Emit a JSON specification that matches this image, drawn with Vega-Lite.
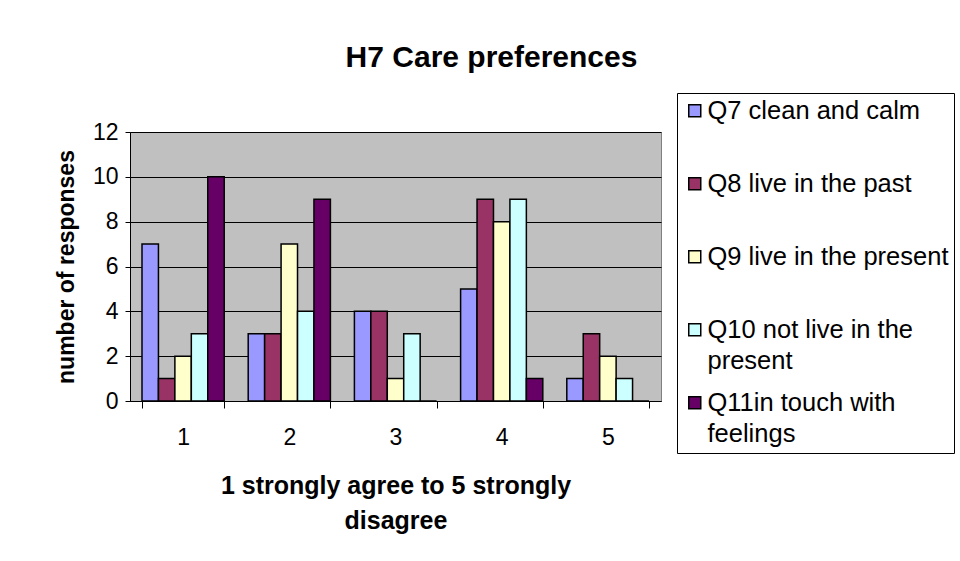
{
  "$schema": "https://vega.github.io/schema/vega-lite/v6.json",
  "width": 531,
  "height": 269,
  "autosize": {"type": "none"},
  "padding": {"left": 130, "top": 132, "right": 299, "bottom": 160},
  "background": "white",
  "title": {
    "text": "H7 Care preferences",
    "font": "Liberation Sans",
    "fontSize": 30,
    "fontWeight": "bold",
    "color": "black",
    "anchor": "middle",
    "frame": "group",
    "dx": 96,
    "baseline": "alphabetic",
    "offset": -4
  },
  "data": {
    "values": [
      {"cat": "1", "series": "Q7 clean and calm", "value": 7},
      {"cat": "1", "series": "Q8 live in the past", "value": 1},
      {"cat": "1", "series": "Q9 live in the present", "value": 2},
      {"cat": "1", "series": "Q10 not live in the present", "value": 3},
      {"cat": "1", "series": "Q11in touch with feelings", "value": 10},
      {"cat": "2", "series": "Q7 clean and calm", "value": 3},
      {"cat": "2", "series": "Q8 live in the past", "value": 3},
      {"cat": "2", "series": "Q9 live in the present", "value": 7},
      {"cat": "2", "series": "Q10 not live in the present", "value": 4},
      {"cat": "2", "series": "Q11in touch with feelings", "value": 9},
      {"cat": "3", "series": "Q7 clean and calm", "value": 4},
      {"cat": "3", "series": "Q8 live in the past", "value": 4},
      {"cat": "3", "series": "Q9 live in the present", "value": 1},
      {"cat": "3", "series": "Q10 not live in the present", "value": 3},
      {"cat": "3", "series": "Q11in touch with feelings", "value": 0},
      {"cat": "4", "series": "Q7 clean and calm", "value": 5},
      {"cat": "4", "series": "Q8 live in the past", "value": 9},
      {"cat": "4", "series": "Q9 live in the present", "value": 8},
      {"cat": "4", "series": "Q10 not live in the present", "value": 9},
      {"cat": "4", "series": "Q11in touch with feelings", "value": 1},
      {"cat": "5", "series": "Q7 clean and calm", "value": 1},
      {"cat": "5", "series": "Q8 live in the past", "value": 3},
      {"cat": "5", "series": "Q9 live in the present", "value": 2},
      {"cat": "5", "series": "Q10 not live in the present", "value": 1},
      {"cat": "5", "series": "Q11in touch with feelings", "value": 0}
    ]
  },
  "mark": {"type": "bar", "stroke": "black", "strokeWidth": 1.5, "strokeOpacity": 1, "opacity": 1},
  "encoding": {
    "x": {
      "field": "cat",
      "type": "nominal",
      "scale": {"paddingInner": 0.226, "paddingOuter": 0.113},
      "axis": {
        "title": ["1 strongly agree to 5 strongly", "disagree"],
        "titleFont": "Liberation Sans",
        "titleFontSize": 25,
        "titleFontWeight": "bold",
        "titleColor": "black",
        "titleLineHeight": 35,
        "titlePadding": 24,
        "labelFont": "Liberation Sans",
        "labelFontSize": 23,
        "labelColor": "black",
        "labelAngle": 0,
        "labelPadding": 18,
        "tickBand": "extent",
        "tickSize": 7,
        "tickColor": "black",
        "domainColor": "black",
        "grid": false
      }
    },
    "xOffset": {
      "field": "series",
      "type": "nominal",
      "sort": ["Q7 clean and calm", "Q8 live in the past", "Q9 live in the present", "Q10 not live in the present", "Q11in touch with feelings"],
      "scale": {"paddingInner": 0, "paddingOuter": 0}
    },
    "y": {
      "field": "value",
      "type": "quantitative",
      "scale": {"domain": [0, 12], "nice": false},
      "axis": {
        "title": "number of responses",
        "titleFont": "Liberation Sans",
        "titleFontSize": 23,
        "titleFontWeight": "bold",
        "titleColor": "black",
        "titlePadding": 14,
        "values": [0, 2, 4, 6, 8, 10, 12],
        "labelFont": "Liberation Sans",
        "labelFontSize": 23,
        "labelColor": "black",
        "labelPadding": 7,
        "tickSize": 5,
        "tickColor": "black",
        "domainColor": "black",
        "grid": true,
        "gridColor": "black",
        "gridOpacity": 1,
        "gridWidth": 1
      }
    },
    "color": {
      "field": "series",
      "type": "nominal",
      "sort": ["Q7 clean and calm", "Q8 live in the past", "Q9 live in the present", "Q10 not live in the present", "Q11in touch with feelings"],
      "scale": {
        "domain": ["Q7 clean and calm", "Q8 live in the past", "Q9 live in the present", "Q10 not live in the present", "Q11in touch with feelings"],
        "range": ["#9999FF", "#993366", "#FFFFCC", "#CCFFFF", "#660066"]
      },
      "legend": {
        "title": null,
        "orient": "none",
        "legendX": 547,
        "legendY": -39,
        "padding": 5,
        "strokeColor": "black",
        "fillColor": "white",
        "labelFont": "Liberation Sans",
        "labelFontSize": 25.5,
        "labelColor": "black",
        "labelLimit": 400,
        "labelOffset": 0,
        "labelBaseline": "middle",
        "labelExpr": "datum.label == 'Q10 not live in the present' ? ['Q10 not live in the', 'present'] : datum.label == 'Q11in touch with feelings' ? ['Q11in touch with', 'feelings'] : [datum.label, ' ']",
        "symbolType": "square",
        "symbolSize": 144,
        "symbolStrokeColor": "black",
        "symbolStrokeWidth": 1.5,
        "symbolOpacity": 1,
        "rowPadding": 15,
        "encode": {
          "labels": {"update": {"lineHeight": {"value": 31}}}
        }
      }
    }
  },
  "config": {
    "view": {"fill": "#C0C0C0", "stroke": "#808080", "strokeWidth": 1}
  }
}
